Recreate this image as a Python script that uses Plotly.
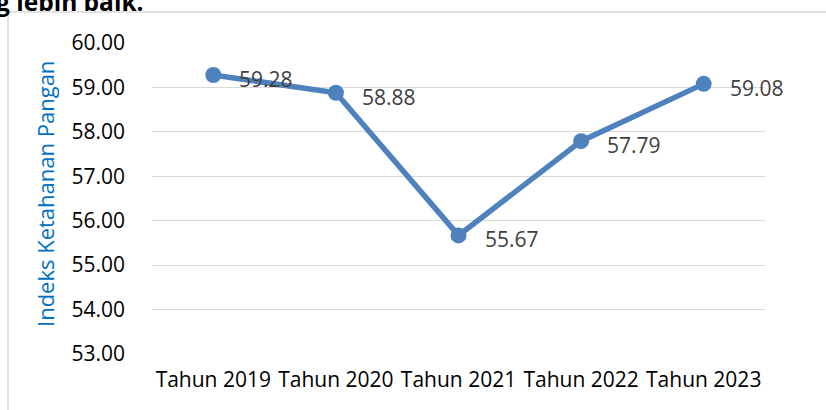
import plotly.graph_objects as go

# Data
years = ["Tahun 2019", "Tahun 2020", "Tahun 2021", "Tahun 2022", "Tahun 2023"]
ikp = [59.28, 58.88, 55.67, 57.79, 59.08]
y_ticks = [53, 54, 55, 56, 57, 58, 59, 60]

W, H = 826, 410
L, T = 152, 43
pw, ph = 613, 311
R, B = W - L - pw, H - T - ph

# screen pixel -> paper coords
def px_x(x):
    return (x - L) / pw

def px_y(y):
    return (T + ph - y) / ph

font = "Open Sans, Noto Sans, sans-serif"
blue = "#4F81BD"

fig = go.Figure()
fig.add_trace(go.Scatter(
    x=years, y=ikp, mode="lines+markers",
    line=dict(color=blue, width=5.5),
    marker=dict(color=blue, size=16),
    hoverinfo="x+y", showlegend=False
))

# data labels
for yr, v in zip(years, ikp):
    fig.add_annotation(x=yr, y=v, text=f"{v:.2f}", showarrow=False,
                       xanchor="left", yanchor="middle", xshift=24, yshift=-4,
                       font=dict(family=font, size=21, color="#404040"))

# y axis title
fig.add_annotation(xref="paper", yref="paper", x=px_x(45), y=px_y(194),
                   text="Indeks Ketahanan Pangan", textangle=-90, showarrow=False,
                   xanchor="center", yanchor="middle",
                   font=dict(family=font, size=22, color="#0070C0"))

# cropped heading text above the chart
fig.add_annotation(xref="paper", yref="paper", x=px_x(-6), y=px_y(2),
                   text="<b>g lebih baik.</b>", showarrow=False,
                   xanchor="left", yanchor="middle",
                   font=dict(family=font, size=24.5, color="#000000"))

# chart border (left + top)
fig.add_shape(type="line", xref="paper", yref="paper",
              x0=px_x(8), x1=px_x(8), y0=px_y(12), y1=px_y(430),
              line=dict(color="#D9D9D9", width=1.5))
fig.add_shape(type="line", xref="paper", yref="paper",
              x0=px_x(8), x1=px_x(850), y0=px_y(12), y1=px_y(12),
              line=dict(color="#D9D9D9", width=1.5))

fig.update_layout(
    width=W, height=H,
    margin=dict(l=L, r=R, t=T, b=B),
    paper_bgcolor="white", plot_bgcolor="white",
    font=dict(family=font, size=21, color="#000000"),
)
fig.update_xaxes(range=[-0.5, 4.5], showgrid=False, showline=False, zeroline=False,
                 tickfont=dict(size=21), ticklabelstandoff=11)
fig.update_yaxes(range=[53, 60], tickvals=y_ticks,
                 ticktext=[f"{t:.2f}" for t in y_ticks],
                 showgrid=True, gridcolor="#D9D9D9", gridwidth=1.3,
                 zeroline=False, showline=False, ticklabelstandoff=26)

# drop the default body margin so the figure sits at the page corner
fig.write_html("out.html", config={"displayModeBar": False},
               post_script="document.body.style.margin='0';")
